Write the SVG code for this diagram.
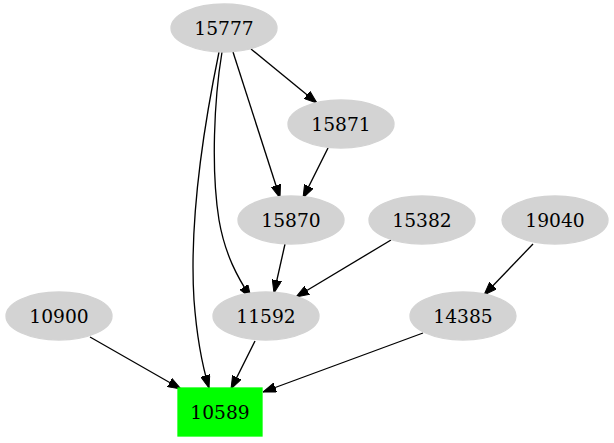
<svg xmlns="http://www.w3.org/2000/svg" width="614" height="443" viewBox="0 0 614 443">
<style>
.n ellipse{fill:#d3d3d3;stroke:#d3d3d3;stroke-width:1.3}
.n rect{fill:#00ff00;stroke:#00ff00;stroke-width:1.3}
.n text{font-family:"DejaVu Serif",serif;font-size:18.67px;fill:#000;text-anchor:middle}
#edges path{fill:none;stroke:#000;stroke-width:1.33;marker-end:url(#ah)}
</style>
<defs>
<marker id="ah" viewBox="0 0 13 10" refX="13" refY="5" markerWidth="13" markerHeight="10" markerUnits="userSpaceOnUse" orient="auto">
<path d="M0,0.3 L13,5 L0,9.7 z" fill="#000" stroke="#000" stroke-width="1"/>
</marker>
</defs>
<rect width="614" height="443" fill="#fff"/>
<g id="edges">
<path d="M251,49 L317,103"/>
<path d="M233,52 L280,198"/>
<path d="M222,52 C214,100 211,170 219,220 C225,255 238,278 251,298"/>
<path d="M219,52 C205,120 189,220 194,300 C197,340 203,368 209,388"/>
<path d="M328,148 L303,198"/>
<path d="M285,244 L274,293"/>
<path d="M391,240 L296,297"/>
<path d="M533,244 L484,295"/>
<path d="M90,337 L181,389"/>
<path d="M255,341 L231,389"/>
<path d="M423,333 L263,392"/>
</g>
<g id="n15777" class="n"><ellipse cx="224" cy="28" rx="53" ry="24"/><text x="224" y="34.5">15777</text></g>
<g id="n15871" class="n"><ellipse cx="341" cy="124" rx="53" ry="24"/><text x="341" y="130.5">15871</text></g>
<g id="n15870" class="n"><ellipse cx="291" cy="220" rx="53" ry="24"/><text x="291" y="226.5">15870</text></g>
<g id="n15382" class="n"><ellipse cx="422" cy="220" rx="53" ry="24"/><text x="422" y="226.5">15382</text></g>
<g id="n19040" class="n"><ellipse cx="555" cy="220" rx="53" ry="24"/><text x="555" y="226.5">19040</text></g>
<g id="n10900" class="n"><ellipse cx="59" cy="316" rx="53" ry="24"/><text x="59" y="322.5">10900</text></g>
<g id="n11592" class="n"><ellipse cx="266" cy="316" rx="53" ry="24"/><text x="266" y="322.5">11592</text></g>
<g id="n14385" class="n"><ellipse cx="463" cy="316" rx="53" ry="24"/><text x="463" y="322.5">14385</text></g>
<g id="n10589" class="n"><rect x="178" y="388" width="84" height="48"/><text x="220" y="418.5">10589</text></g>
</svg>
